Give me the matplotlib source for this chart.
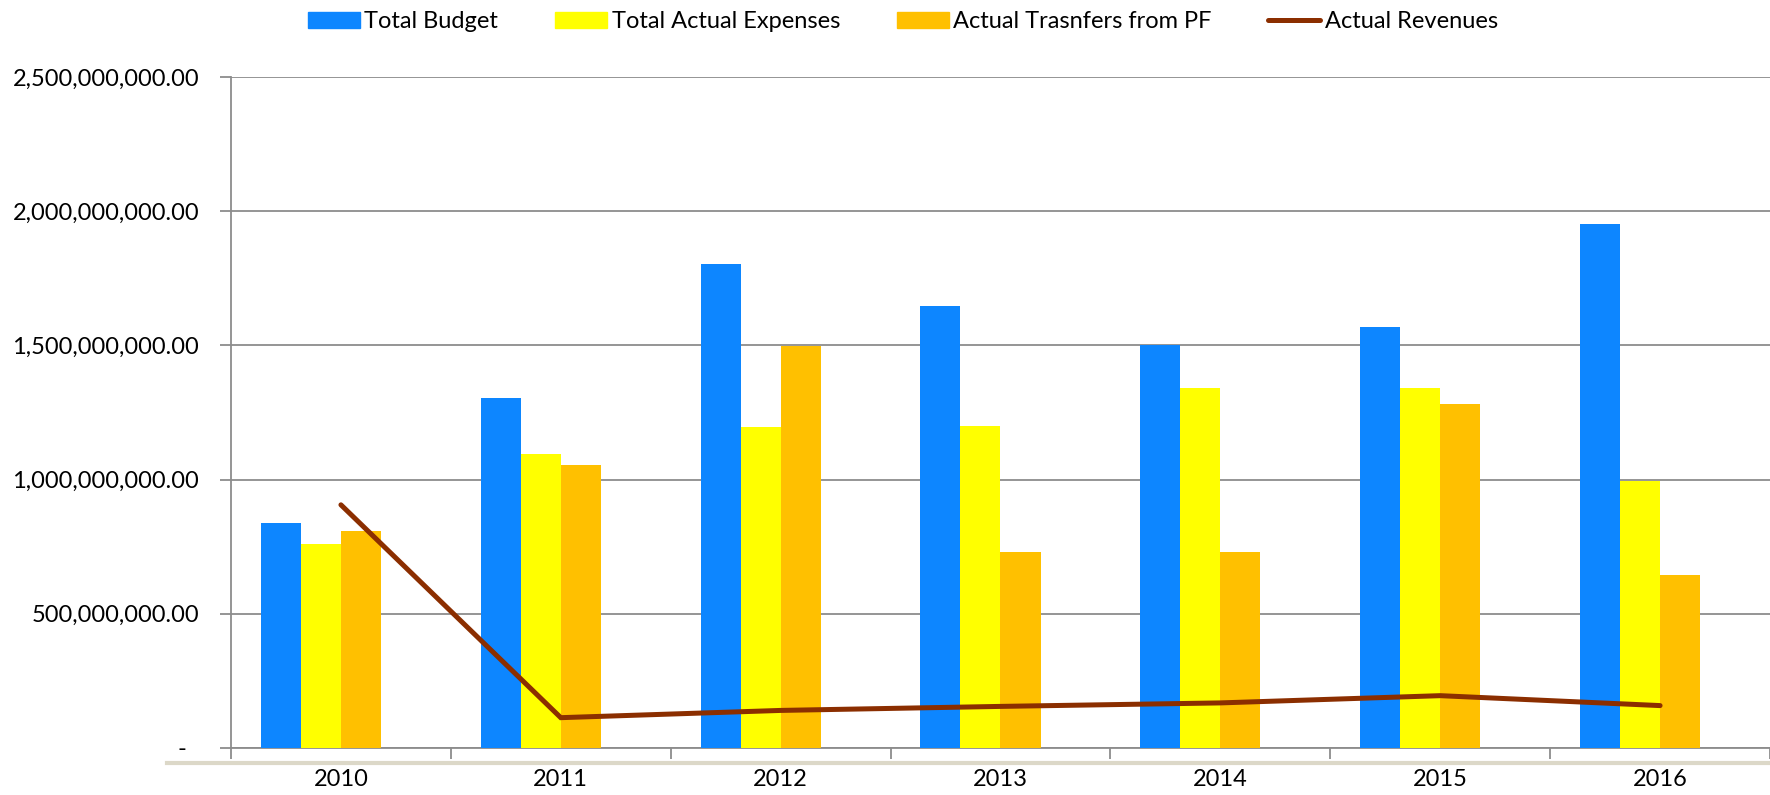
import matplotlib.pyplot as plt
import numpy as np
from matplotlib.patches import Patch
from matplotlib.lines import Line2D
from matplotlib.ticker import FuncFormatter

plt.rcParams['font.family'] = ['Lato', 'DejaVu Sans']

years = ['2010', '2011', '2012', '2013', '2014', '2015', '2016']
total_budget = [838e6, 1305e6, 1805e6, 1647e6, 1500e6, 1570e6, 1952e6]
actual_expenses = [760e6, 1096e6, 1197e6, 1198e6, 1340e6, 1340e6, 995e6]
transfers_pf = [809e6, 1054e6, 1497e6, 730e6, 731e6, 1280e6, 645e6]
actual_revenues = [906e6, 113e6, 140e6, 155e6, 168e6, 195e6, 158e6]

c_blue = '#0D86FF'
c_yellow = '#FFFF00'
c_orange = '#FFC000'
c_line = '#8B2E00'
grid_c = '#8c8c8c'

fig = plt.figure(figsize=(17.7, 7.95), dpi=100)
ax = fig.add_axes([231 / 1770, 47 / 795, 1 - 231 / 1770, 671 / 795])

x = np.arange(len(years))
w = 0.182
# 4 slots per category (last one empty, like the original excel chart)
ax.bar(x - 1.5 * w, total_budget, w, color=c_blue, zorder=3)
ax.bar(x - 0.5 * w, actual_expenses, w, color=c_yellow, zorder=3)
ax.bar(x + 0.5 * w, transfers_pf, w, color=c_orange, zorder=3)
ax.plot(x, actual_revenues, color=c_line, linewidth=3.6, solid_capstyle='round',
        solid_joinstyle='miter', zorder=4)

ax.set_ylim(0, 2.5e9)
ax.set_xlim(-0.5, -0.5 + 1539 / 221.3)
ax.set_yticks(np.arange(0, 2.5e9 + 1, 5e8))


def fmt(v, pos):
    if v == 0:
        return '-  '
    return '{:,.2f}'.format(v)


ax.yaxis.set_major_formatter(FuncFormatter(fmt))
ax.yaxis.grid(True, color=grid_c, linewidth=1.3, zorder=0)

ax.set_xticks(x)
ax.set_xticklabels(years)
ax.set_xticks(np.arange(-0.5, 7, 1), minor=True)
ax.tick_params(axis='x', which='major', length=0, pad=15, labelsize=17)
ax.tick_params(axis='x', which='minor', length=8, width=1.3, color=grid_c, direction='out')
ax.tick_params(axis='y', length=8, width=1.3, color=grid_c, pad=15, labelsize=17)

for s in ['top', 'right']:
    ax.spines[s].set_visible(False)
for s in ['left', 'bottom']:
    ax.spines[s].set_color(grid_c)
    ax.spines[s].set_linewidth(1.3)

# decorative slide line under the axis
fig.add_artist(Line2D([167 / 1770, 1.0], [32 / 795, 32 / 795], color='#dcd8c8',
                      linewidth=3, transform=fig.transFigure))

handles = [Patch(color=c_blue), Patch(color=c_yellow), Patch(color=c_orange),
           Line2D([0], [0], color=c_line, linewidth=3.6, solid_capstyle='round')]
labels = ['Total Budget', 'Total Actual Expenses', 'Actual Trasnfers from PF', 'Actual Revenues']
fig.legend(handles, labels, loc='center', bbox_to_anchor=(903 / 1770, 1 - 22 / 795), ncol=4,
           frameon=False, fontsize=17, handlelength=2.2, handleheight=0.65,
           handletextpad=0.2, columnspacing=2.4)

fig.savefig('out.png', dpi=100)
